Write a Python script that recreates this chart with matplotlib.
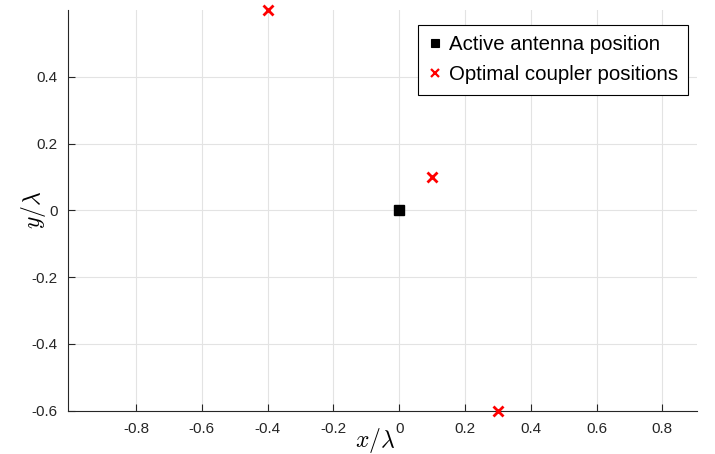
import matplotlib
matplotlib.use("Agg")
import matplotlib.pyplot as plt

active_x = [0.0]
active_y = [0.0]
coupler_x = [-0.4, 0.1, 0.3]
coupler_y = [0.6, 0.1, -0.6]
xticks = [-0.8, -0.6, -0.4, -0.2, 0, 0.2, 0.4, 0.6, 0.8]
yticks = [-0.6, -0.4, -0.2, 0, 0.2, 0.4]
xticklabels = ["-0.8", "-0.6", "-0.4", "-0.2", "0", "0.2", "0.4", "0.6", "0.8"]
yticklabels = ["-0.6", "-0.4", "-0.2", "0", "0.2", "0.4"]

plt.rcParams['font.family'] = ['Liberation Sans', 'DejaVu Sans']
plt.rcParams['mathtext.fontset'] = 'cm'

fig = plt.figure(figsize=(7.15, 4.54), dpi=100)
ax = fig.add_axes([0.0958, 0.0958, 0.879, 0.882])

ax.plot(active_x, active_y, 's', color='black', markersize=7, label='Active antenna position', zorder=5, clip_on=False)
ax.plot(coupler_x, coupler_y, 'x', color='red', markersize=7, markeredgewidth=2, label='Optimal coupler positions', zorder=5, clip_on=False)

ax.set_xlim(-1.005, 0.905)
ax.set_ylim(-0.6, 0.6)
ax.set_xticks(xticks)
ax.set_xticklabels(xticklabels)
ax.set_yticks(yticks)
ax.set_yticklabels(yticklabels)
ax.tick_params(direction='in', length=5, width=0.8, labelsize=11, colors='#262626', pad=8)
ax.grid(True, color='#e3e3e3', linewidth=0.8)
ax.set_axisbelow(True)
for s in ['top', 'right']:
    ax.spines[s].set_visible(False)
for s in ['left', 'bottom']:
    ax.spines[s].set_color('#262626')
    ax.spines[s].set_linewidth(0.8)

ax.set_xlabel(r'$x/\lambda$', fontsize=17, va='center')
ax.xaxis.set_label_coords(0.488, -0.075)
ax.set_ylabel(r'$y/\lambda$', fontsize=17, va='center')
ax.yaxis.set_label_coords(-0.055, 0.5)

leg = ax.legend(loc='upper right', bbox_to_anchor=(0.986, 0.963), fontsize=14.7, handlelength=0.6,
                handletextpad=0.4, borderpad=0.5, labelspacing=0.55, fancybox=False, framealpha=1,
                edgecolor='black', markerscale=0.8, borderaxespad=0)
leg.get_frame().set_linewidth(0.8)
for h in leg.legend_handles:
    h.set_markeredgewidth(h.get_markeredgewidth() * 0.8)

fig.savefig('out.png', dpi=100)
